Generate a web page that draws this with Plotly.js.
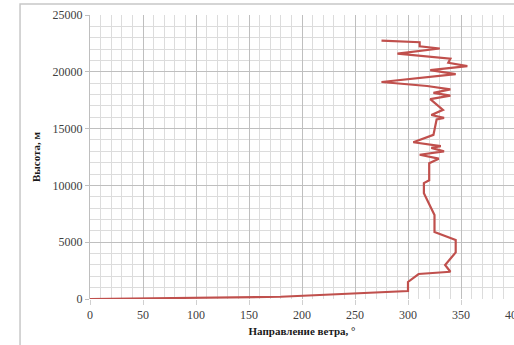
<!DOCTYPE html>
<html>
<head>
<meta charset="utf-8">
<script src="https://cdn.plot.ly/plotly-3.0.1.min.js"></script>
<style>
  html, body { margin: 0; padding: 0; background: #ffffff; }
  #chart { width: 514px; height: 345px; }
</style>
</head>
<body>
<div id="chart"></div>
<script>
// Wind direction profile: direction (degrees) against height (m)
const windDirection = [0, 180, 300, 300, 310, 340, 335, 345, 345, 325, 325, 320, 315, 315, 320, 320,
  329, 311, 334, 322, 331, 305, 324, 327, 334, 322, 333, 321, 340, 324, 340, 318, 275, 345,
  321, 356, 338, 340, 290, 330, 311, 311, 275];
const heightM = [0, 200, 700, 1500, 2200, 2400, 3000, 4100, 5200, 5900, 7400, 8300, 9300, 10200, 10450, 11950,
  12350, 12700, 13000, 13300, 13450, 13800, 14450, 15800, 15950, 16200, 16650, 17600, 17900, 18150, 18450, 18750, 19100, 19800,
  20150, 20500, 20800, 21150, 21600, 22050, 22250, 22600, 22750];

const xTickVals = [0, 50, 100, 150, 200, 250, 300, 350, 400];
const yTickVals = [0, 5000, 10000, 15000, 20000, 25000];

const serif = 'Liberation Serif';

const trace = {
  x: windDirection,
  y: heightM,
  type: 'scatter',
  mode: 'lines',
  line: { color: '#c0504d', width: 2.2 },
  hoverinfo: 'skip'
};

const layout = {
  width: 514,
  height: 345,
  margin: { l: 90, r: 0, t: 15, b: 45.5 },
  paper_bgcolor: '#ffffff',
  plot_bgcolor: '#ffffff',
  showlegend: false,
  font: { family: serif },
  xaxis: {
    range: [0, 400],
    tickvals: xTickVals,
    ticktext: xTickVals.map(String),
    // the last label runs past the right edge of the frame
    ticklabeloverflow: 'allow',
    showgrid: true,
    gridcolor: '#bfbfbf',
    gridwidth: 1,
    minor: { dtick: 10, showgrid: true, gridcolor: '#dcdcdc', gridwidth: 1 },
    zeroline: false,
    showline: false,
    ticks: 'outside',
    ticklen: 5,
    tickcolor: '#d0d0d0',
    tickfont: { family: serif, size: 12, color: '#404040' },
    title: {
      text: '<b>Направление ветра, °</b>',
      font: { family: serif, size: 11, color: '#1a1a1a' },
      standoff: 5
    }
  },
  yaxis: {
    range: [0, 25000],
    tickvals: yTickVals,
    ticktext: yTickVals.map(String),
    ticklabeloverflow: 'allow',
    showgrid: true,
    gridcolor: '#bfbfbf',
    gridwidth: 1,
    minor: { dtick: 1000, showgrid: true, gridcolor: '#dcdcdc', gridwidth: 1 },
    zeroline: false,
    showline: true,
    linecolor: '#bfbfbf',
    ticks: 'outside',
    ticklen: 4,
    tickcolor: '#bfbfbf',
    tickfont: { family: serif, size: 12, color: '#404040' },
    title: {
      text: '<b>Высота, м</b>',
      font: { family: serif, size: 11, color: '#1a1a1a' },
      standoff: 9
    }
  },
  shapes: [
    {
      type: 'rect', xref: 'paper', yref: 'paper',
      x0: -0.165, x1: 1.1, y0: -0.25, y1: 1.0387,
      line: { color: '#c8c8c8', width: 1.5 },
      fillcolor: 'rgba(0,0,0,0)',
      layer: 'below'
    }
  ]
};

Plotly.newPlot('chart', [trace], layout, { staticPlot: true, displayModeBar: false });
</script>
</body>
</html>
